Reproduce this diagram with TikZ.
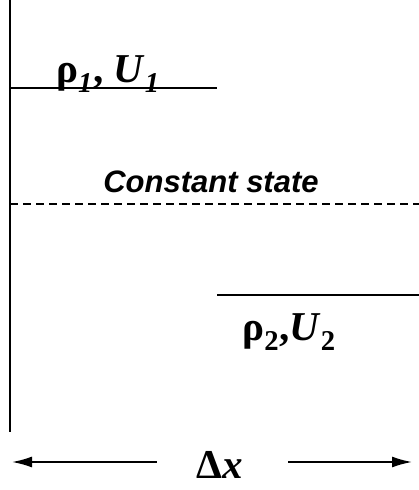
\documentclass[tikz,border=0pt]{standalone}
\usepackage{fontspec}
\setmainfont{Liberation Serif}
\setsansfont{Liberation Sans}
\usetikzlibrary{arrows.meta,positioning}

\begin{document}
\begin{tikzpicture}[x=1pt,y=-1pt,
  wall/.style={line width=2.8pt},
  level/.style={line width=1.5pt},
  state/.style={font=\fontsize{41}{41}\selectfont\bfseries,inner sep=0pt},
  span/.style={line width=1.8pt,-{Latex[length=20pt,width=11pt]}}]
\useasboundingbox (0,0) rectangle (419,490);
% wall and levels
\coordinate (walltop) at (10,0);
\coordinate (wallbot) at (10,432);
\draw[wall] (walltop) -- (wallbot);
\coordinate (upL) at (10,88);
\coordinate (upR) at (217,88);
\draw[level] (upL) -- (upR);
\coordinate (midL) at (10,204);
\coordinate (midR) at (419,204);
\draw[level,dash pattern=on 8pt off 5pt] (midL) -- (midR);
\coordinate (lowL) at (217,295);
\coordinate (lowR) at (419,295);
\draw[level] (lowL) -- (lowR);
% labels
\node[state,anchor=base] (left) at (108,82) {ρ\textsubscript{\textit{1}}, \textit{U}\textsubscript{\textit{1}}};
\node[font=\sffamily\bfseries\itshape\fontsize{31}{31}\selectfont,anchor=base] (const) at (211,192) {Constant state};
\node[state,anchor=base] (right) at (289,340) {ρ\textsubscript{2},\textit{U}\textsubscript{2}};
% width
\node[state,anchor=base] (dx) at (220,478) {Δ\textit{x}};
\coordinate (dxL) at (12,462);
\coordinate (dxR) at (412,462);
\draw[span] ([xshift=-40pt]dx.west |- dxL) -- (dxL);
\draw[span] ([xshift=45pt]dx.east |- dxR) -- (dxR);
\end{tikzpicture}
\end{document}
